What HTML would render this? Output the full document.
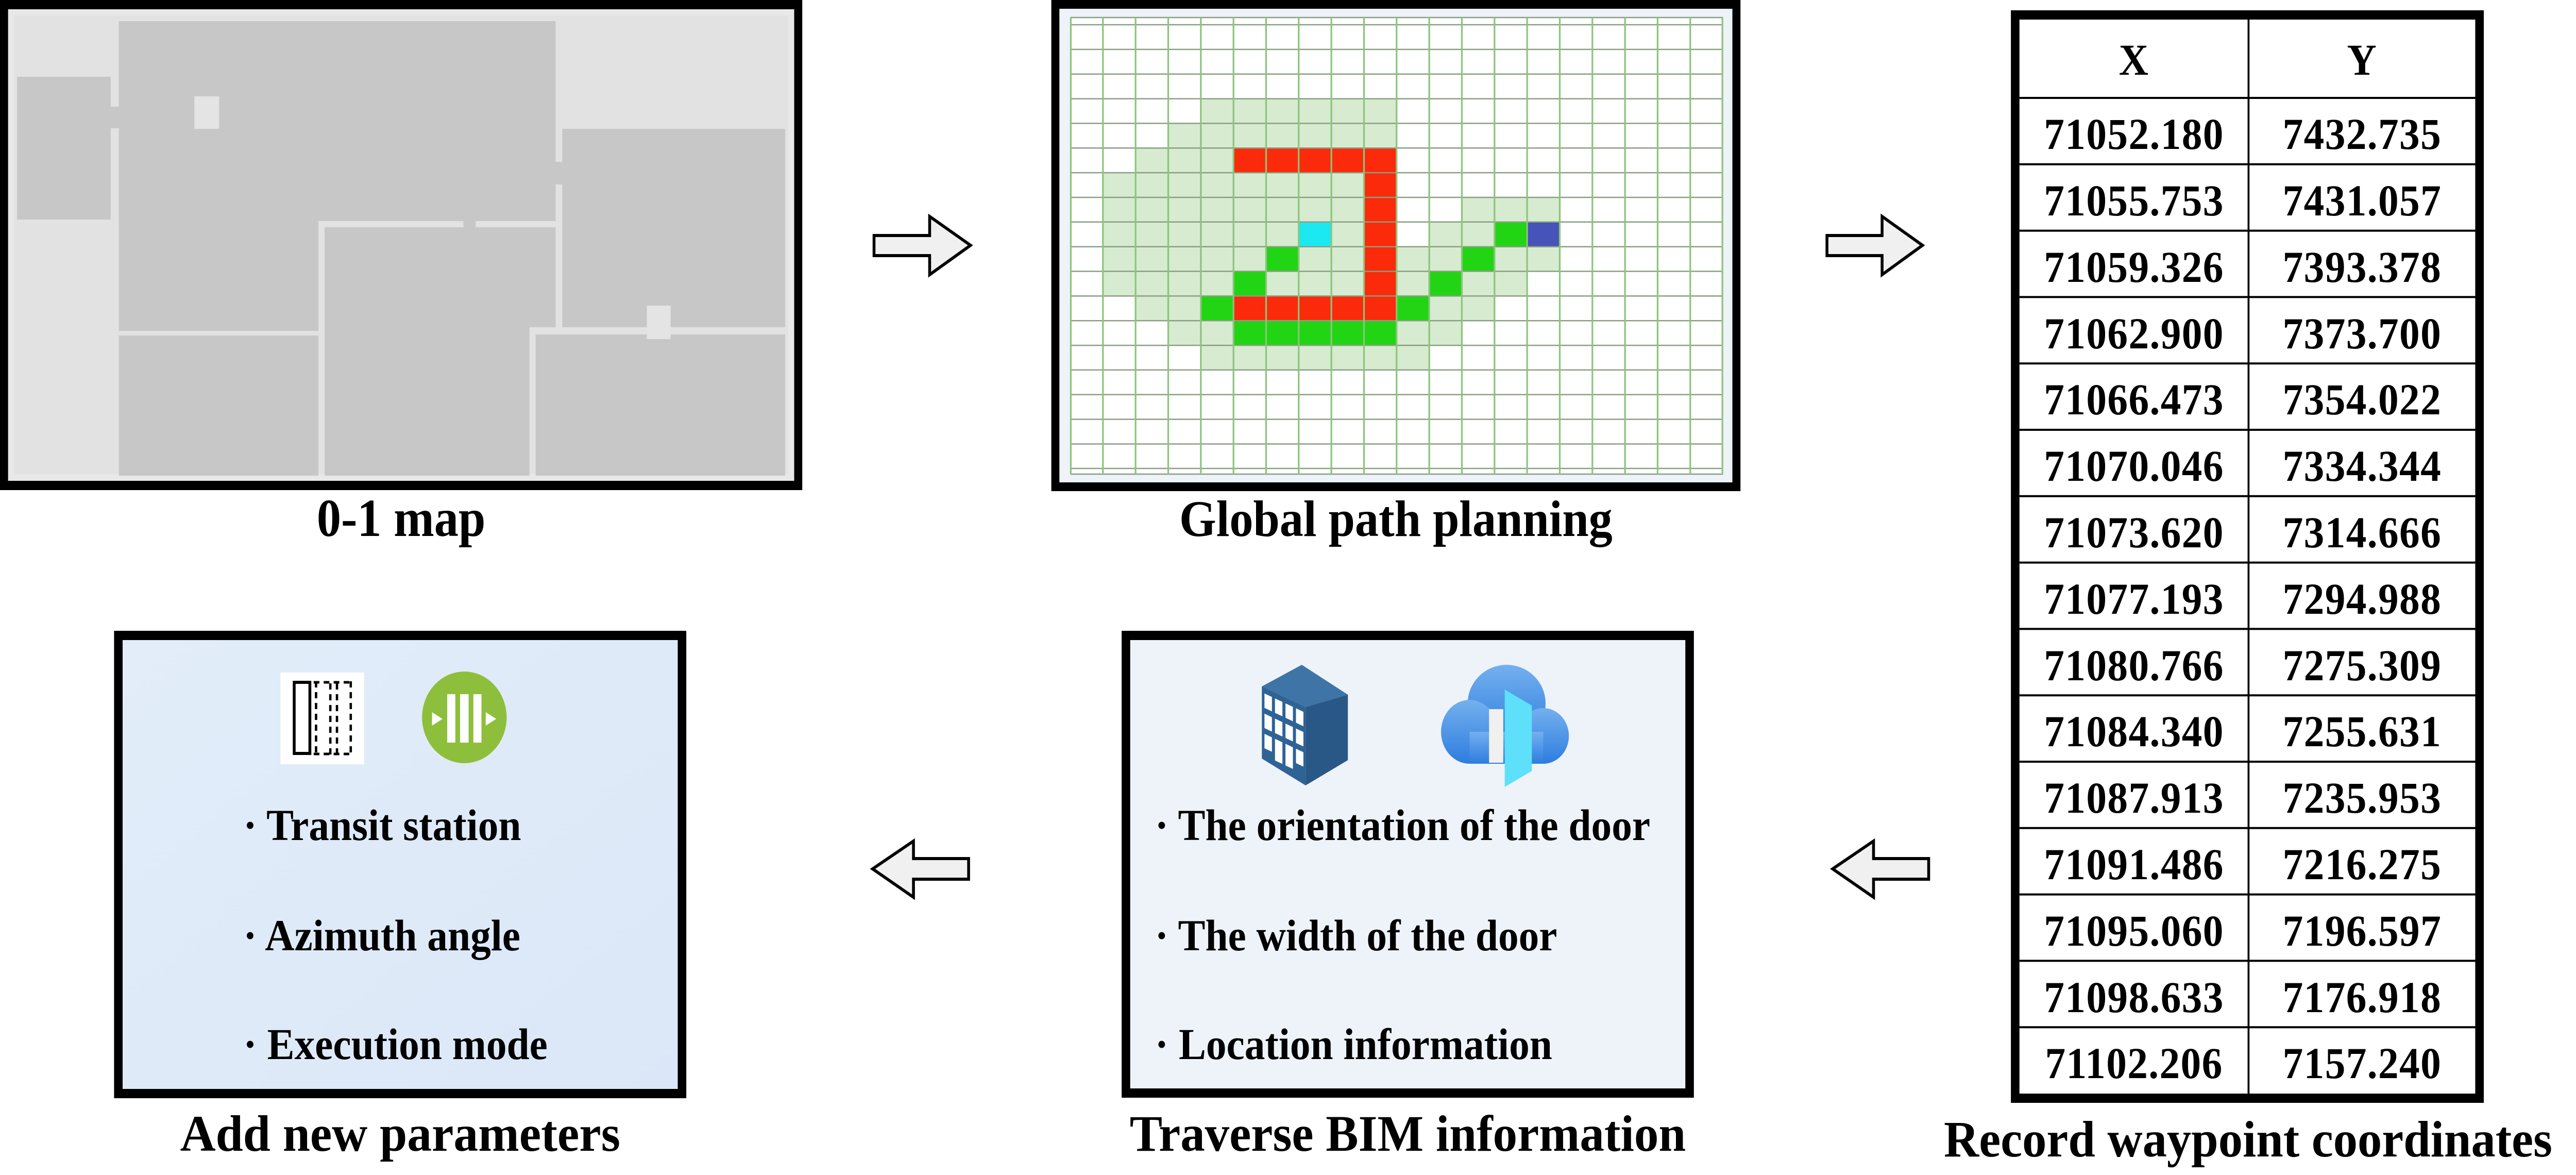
<!DOCTYPE html>
<html><head><meta charset="utf-8"><style>
html,body{margin:0;padding:0;background:#fff;overflow:hidden;}
svg{display:block;width:100vw;height:100vh;}
text{font-family:"Liberation Serif",serif;font-weight:bold;fill:#000;}
</style></head><body>
<svg xmlns="http://www.w3.org/2000/svg" viewBox="0 0 5420 2280" preserveAspectRatio="none">
<defs>
<linearGradient id="cloudg" x1="0" y1="0" x2="0" y2="1"><stop offset="0" stop-color="#74b0ee"/><stop offset="1" stop-color="#2d7ddf"/></linearGradient>
<linearGradient id="leftbg" x1="0" y1="0" x2="1" y2="1"><stop offset="0" stop-color="#e2edf9"/><stop offset="1" stop-color="#dbe7f8"/></linearGradient>
</defs>
<rect width="5420" height="2280" fill="#fff"/>

<!-- 0-1 map -->
<rect x="0" y="0" width="1688" height="951" fill="#000"/>
<rect x="17" y="18" width="1654" height="915" fill="#e8e8e8"/>
<rect x="30" y="30" width="1628" height="890" fill="#e2e2e2"/>
<g fill="#c7c7c7">
<rect x="36" y="149" width="197" height="277"/>
<rect x="250" y="41" width="919" height="388"/>
<rect x="250" y="41" width="420" height="601"/>
<rect x="250" y="651" width="420" height="272"/>
<rect x="683" y="441" width="486" height="194"/>
<rect x="683" y="441" width="431" height="482"/>
<rect x="1183" y="250" width="469" height="385"/>
<rect x="1127" y="649" width="525" height="274"/>
<rect x="233" y="207" width="17" height="42"/>
<rect x="1169" y="314" width="14" height="44"/>
<rect x="975" y="429" width="26" height="12"/>
</g>
<rect x="409" y="187" width="52" height="63" fill="#e4e4e4"/>
<rect x="1361" y="593" width="50" height="65" fill="#e4e4e4"/>
<text x="844" y="1040" font-size="104" text-anchor="middle" textLength="355" lengthAdjust="spacingAndGlyphs">0-1 map</text>

<!-- arrows -->
<g fill="#f0f0f0" stroke="#000" stroke-width="6" stroke-linejoin="miter">
<polygon points="1839,457 1956,457 1956,420 2042,476 1956,533 1956,496 1839,496"/>
<polygon points="3844,457 3960,457 3960,420 4045,476 3960,533 3960,496 3844,496"/>
<polygon points="2038,1666 1922,1666 1922,1632 1836,1686 1922,1741 1922,1706 2038,1706"/>
<polygon points="4058,1666 3942,1666 3942,1632 3856,1686 3942,1741 3942,1706 4058,1706"/>
</g>

<!-- Global path planning grid -->
<rect x="2212" y="0" width="1450" height="953" fill="#000"/>
<rect x="2229" y="17" width="1416" height="919" fill="#edf3f8"/>
<rect x="2252" y="34" width="1373" height="886" fill="#fff"/>
<g>
<rect x="2526.6" y="191.6" width="411.9" height="47.85" fill="#d6ebcf"/>
<rect x="2458" y="239.4" width="480.5" height="47.85" fill="#d6ebcf"/>
<rect x="2389.3" y="287.3" width="205.9" height="47.85" fill="#d6ebcf"/>
<rect x="2595.3" y="287.3" width="343.3" height="47.85" fill="#fb2a0a"/>
<rect x="2320.6" y="335.1" width="549.3" height="47.85" fill="#d6ebcf"/>
<rect x="2869.9" y="335.1" width="68.65" height="47.85" fill="#fb2a0a"/>
<rect x="2320.6" y="383" width="549.3" height="47.85" fill="#d6ebcf"/>
<rect x="2869.9" y="383" width="68.65" height="47.85" fill="#fb2a0a"/>
<rect x="3075.8" y="383" width="205.9" height="47.85" fill="#d6ebcf"/>
<rect x="2320.6" y="430.8" width="411.9" height="47.85" fill="#d6ebcf"/>
<rect x="2732.5" y="430.8" width="68.65" height="47.85" fill="#1ce8f2"/>
<rect x="2801.2" y="430.8" width="68.65" height="47.85" fill="#d6ebcf"/>
<rect x="2869.9" y="430.8" width="68.65" height="47.85" fill="#fb2a0a"/>
<rect x="3007.2" y="430.8" width="137.3" height="47.85" fill="#d6ebcf"/>
<rect x="3144.5" y="430.8" width="68.65" height="47.85" fill="#22d514"/>
<rect x="3213.1" y="430.8" width="68.65" height="47.85" fill="#4653b8"/>
<rect x="2320.6" y="478.7" width="343.3" height="47.85" fill="#d6ebcf"/>
<rect x="2663.9" y="478.7" width="68.65" height="47.85" fill="#22d514"/>
<rect x="2732.5" y="478.7" width="137.3" height="47.85" fill="#d6ebcf"/>
<rect x="2869.9" y="478.7" width="68.65" height="47.85" fill="#fb2a0a"/>
<rect x="2938.5" y="478.7" width="137.3" height="47.85" fill="#d6ebcf"/>
<rect x="3075.8" y="478.7" width="68.65" height="47.85" fill="#22d514"/>
<rect x="3144.5" y="478.7" width="137.3" height="47.85" fill="#d6ebcf"/>
<rect x="2320.6" y="526.5" width="274.6" height="47.85" fill="#d6ebcf"/>
<rect x="2595.3" y="526.5" width="68.65" height="47.85" fill="#22d514"/>
<rect x="2663.9" y="526.5" width="205.9" height="47.85" fill="#d6ebcf"/>
<rect x="2869.9" y="526.5" width="68.65" height="47.85" fill="#fb2a0a"/>
<rect x="2938.5" y="526.5" width="68.65" height="47.85" fill="#d6ebcf"/>
<rect x="3007.2" y="526.5" width="68.65" height="47.85" fill="#22d514"/>
<rect x="3075.8" y="526.5" width="137.3" height="47.85" fill="#d6ebcf"/>
<rect x="2389.3" y="574.4" width="137.3" height="47.85" fill="#d6ebcf"/>
<rect x="2526.6" y="574.4" width="68.65" height="47.85" fill="#22d514"/>
<rect x="2595.3" y="574.4" width="343.3" height="47.85" fill="#fb2a0a"/>
<rect x="2938.5" y="574.4" width="68.65" height="47.85" fill="#22d514"/>
<rect x="3007.2" y="574.4" width="137.3" height="47.85" fill="#d6ebcf"/>
<rect x="2458" y="622.2" width="137.3" height="47.85" fill="#d6ebcf"/>
<rect x="2595.3" y="622.2" width="343.3" height="47.85" fill="#22d514"/>
<rect x="2938.5" y="622.2" width="137.3" height="47.85" fill="#d6ebcf"/>
<rect x="2526.6" y="670.1" width="480.5" height="47.85" fill="#d6ebcf"/>
</g>
<g stroke="#8a9e82" stroke-width="2.5">
<line x1="2252" y1="34" x2="3625" y2="34"/><line x1="2252" y1="48" x2="3625" y2="48"/>
<line x1="2252" y1="95.85" x2="3625" y2="95.85"/><line x1="2252" y1="143.7" x2="3625" y2="143.7"/>
<line x1="2252" y1="191.6" x2="3625" y2="191.6"/><line x1="2252" y1="239.4" x2="3625" y2="239.4"/>
<line x1="2252" y1="287.3" x2="3625" y2="287.3"/><line x1="2252" y1="335.1" x2="3625" y2="335.1"/>
<line x1="2252" y1="383" x2="3625" y2="383"/><line x1="2252" y1="430.8" x2="3625" y2="430.8"/>
<line x1="2252" y1="478.7" x2="3625" y2="478.7"/><line x1="2252" y1="526.5" x2="3625" y2="526.5"/>
<line x1="2252" y1="574.4" x2="3625" y2="574.4"/><line x1="2252" y1="622.2" x2="3625" y2="622.2"/>
<line x1="2252" y1="670.1" x2="3625" y2="670.1"/><line x1="2252" y1="717.9" x2="3625" y2="717.9"/>
<line x1="2252" y1="765.8" x2="3625" y2="765.8"/><line x1="2252" y1="813.6" x2="3625" y2="813.6"/>
<line x1="2252" y1="861.5" x2="3625" y2="861.5"/><line x1="2252" y1="909" x2="3625" y2="909"/>
<line x1="2252" y1="920" x2="3625" y2="920"/>
</g>
<g stroke="#8cc47c" stroke-width="3.5">
<line x1="2253" y1="34" x2="2253" y2="920"/><line x1="2320.6" y1="34" x2="2320.6" y2="920"/>
<line x1="2389.3" y1="34" x2="2389.3" y2="920"/><line x1="2458" y1="34" x2="2458" y2="920"/>
<line x1="2526.6" y1="34" x2="2526.6" y2="920"/><line x1="2595.3" y1="34" x2="2595.3" y2="920"/>
<line x1="2663.9" y1="34" x2="2663.9" y2="920"/><line x1="2732.5" y1="34" x2="2732.5" y2="920"/>
<line x1="2801.2" y1="34" x2="2801.2" y2="920"/><line x1="2869.9" y1="34" x2="2869.9" y2="920"/>
<line x1="2938.5" y1="34" x2="2938.5" y2="920"/><line x1="3007.2" y1="34" x2="3007.2" y2="920"/>
<line x1="3075.8" y1="34" x2="3075.8" y2="920"/><line x1="3144.5" y1="34" x2="3144.5" y2="920"/>
<line x1="3213.1" y1="34" x2="3213.1" y2="920"/><line x1="3281.8" y1="34" x2="3281.8" y2="920"/>
<line x1="3350.4" y1="34" x2="3350.4" y2="920"/><line x1="3419.1" y1="34" x2="3419.1" y2="920"/>
<line x1="3487.7" y1="34" x2="3487.7" y2="920"/><line x1="3556.4" y1="34" x2="3556.4" y2="920"/>
<line x1="3624" y1="34" x2="3624" y2="920"/>
</g>
<text x="2937" y="1040" font-size="100" text-anchor="middle">Global path planning</text>

<!-- Table -->
<rect x="4231" y="20" width="995" height="2120" fill="#000"/>
<rect x="4249" y="38" width="959" height="2084" fill="#fff"/>
<g stroke="#000" stroke-width="4">
<line x1="4731" y1="38" x2="4731" y2="2122"/>
<line x1="4249" y1="190" x2="5208" y2="190"/><line x1="4249" y1="318.8" x2="5208" y2="318.8"/>
<line x1="4249" y1="447.6" x2="5208" y2="447.6"/><line x1="4249" y1="576.4" x2="5208" y2="576.4"/>
<line x1="4249" y1="705.2" x2="5208" y2="705.2"/><line x1="4249" y1="834" x2="5208" y2="834"/>
<line x1="4249" y1="962.8" x2="5208" y2="962.8"/><line x1="4249" y1="1091.6" x2="5208" y2="1091.6"/>
<line x1="4249" y1="1220.4" x2="5208" y2="1220.4"/><line x1="4249" y1="1349.2" x2="5208" y2="1349.2"/>
<line x1="4249" y1="1478" x2="5208" y2="1478"/><line x1="4249" y1="1606.8" x2="5208" y2="1606.8"/>
<line x1="4249" y1="1735.6" x2="5208" y2="1735.6"/><line x1="4249" y1="1864.4" x2="5208" y2="1864.4"/>
<line x1="4249" y1="1993.2" x2="5208" y2="1993.2"/>
</g>
<g font-size="86" text-anchor="middle" letter-spacing="1.5">
<text x="4490" y="145">X</text><text x="4970" y="145">Y</text>
<text x="4490" y="289">71052.180</text><text x="4970" y="289">7432.735</text>
<text x="4490" y="418">71055.753</text><text x="4970" y="418">7431.057</text>
<text x="4490" y="547">71059.326</text><text x="4970" y="547">7393.378</text>
<text x="4490" y="676">71062.900</text><text x="4970" y="676">7373.700</text>
<text x="4490" y="804">71066.473</text><text x="4970" y="804">7354.022</text>
<text x="4490" y="933">71070.046</text><text x="4970" y="933">7334.344</text>
<text x="4490" y="1062">71073.620</text><text x="4970" y="1062">7314.666</text>
<text x="4490" y="1191">71077.193</text><text x="4970" y="1191">7294.988</text>
<text x="4490" y="1320">71080.766</text><text x="4970" y="1320">7275.309</text>
<text x="4490" y="1448">71084.340</text><text x="4970" y="1448">7255.631</text>
<text x="4490" y="1577">71087.913</text><text x="4970" y="1577">7235.953</text>
<text x="4490" y="1706">71091.486</text><text x="4970" y="1706">7216.275</text>
<text x="4490" y="1835">71095.060</text><text x="4970" y="1835">7196.597</text>
<text x="4490" y="1964">71098.633</text><text x="4970" y="1964">7176.918</text>
<text x="4490" y="2092">71102.206</text><text x="4970" y="2092">7157.240</text>
</g>
<text x="4090" y="2244" font-size="100" textLength="1280" lengthAdjust="spacingAndGlyphs">Record waypoint coordinates</text>

<!-- Add new parameters box -->
<rect x="240" y="1224" width="1204" height="907" fill="#000"/>
<rect x="258" y="1242" width="1168" height="871" fill="url(#leftbg)"/>
<rect x="590" y="1305" width="176" height="178" fill="#fff"/>
<rect x="619" y="1324" width="33" height="138" fill="none" stroke="#000" stroke-width="6"/>
<g stroke="#000" stroke-width="5" stroke-dasharray="12,9">
<line x1="665" y1="1322" x2="665" y2="1466"/><line x1="695" y1="1326" x2="695" y2="1466"/>
<line x1="709" y1="1326" x2="709" y2="1466"/><line x1="738" y1="1322" x2="738" y2="1466"/>
<line x1="660" y1="1324" x2="742" y2="1324"/><line x1="660" y1="1463" x2="742" y2="1463"/>
</g>
<circle cx="977" cy="1392" r="89" fill="#8dbf3c"/>
<rect x="941" y="1347" width="17" height="94" fill="#fff"/>
<rect x="968" y="1347" width="18" height="94" fill="#fff"/>
<rect x="996" y="1347" width="17" height="94" fill="#fff"/>
<polygon points="909,1382 931,1395 909,1408" fill="#fff"/>
<polygon points="1022,1382 1044,1395 1022,1408" fill="#fff"/>
<g font-size="86">
<text x="512" y="1630">· Transit station</text>
<text x="512" y="1844">· Azimuth angle</text>
<text x="512" y="2055">· Execution mode</text>
</g>
<text x="842" y="2233" font-size="100" text-anchor="middle" textLength="926" lengthAdjust="spacingAndGlyphs">Add new parameters</text>

<!-- Traverse BIM information box -->
<rect x="2360" y="1224" width="1204" height="906" fill="#000"/>
<rect x="2378" y="1242" width="1168" height="870" fill="#eef3f9"/>
<polygon points="2655,1332 2739,1290 2836,1348 2747,1372" fill="#3e74a6"/>
<polygon points="2655,1332 2747,1372 2747,1524 2655,1472" fill="#2e6396"/>
<polygon points="2747,1372 2836,1348 2836,1475 2747,1524" fill="#295887"/>
<g transform="matrix(92,40,0,140,2655,1332)" fill="#fff">
<rect x="0.06" y="0.08" width="0.17" height="0.2"/><rect x="0.3" y="0.08" width="0.17" height="0.2"/>
<rect x="0.54" y="0.08" width="0.17" height="0.2"/><rect x="0.78" y="0.08" width="0.17" height="0.2"/>
<rect x="0.06" y="0.36" width="0.17" height="0.2"/><rect x="0.3" y="0.36" width="0.17" height="0.2"/>
<rect x="0.54" y="0.36" width="0.17" height="0.2"/><rect x="0.78" y="0.36" width="0.17" height="0.2"/>
<rect x="0.06" y="0.64" width="0.17" height="0.2"/><rect x="0.3" y="0.64" width="0.17" height="0.3"/>
<rect x="0.54" y="0.64" width="0.17" height="0.3"/><rect x="0.78" y="0.64" width="0.17" height="0.2"/>
</g>
<g fill="url(#cloudg)">
<ellipse cx="3170" cy="1365" rx="82" ry="75"/>
<ellipse cx="3092" cy="1420" rx="60" ry="62"/>
<ellipse cx="3247" cy="1428" rx="54" ry="54"/>
<rect x="3092" y="1420" width="155" height="62"/>
</g>
<rect x="3133" y="1376" width="30" height="104" fill="#f0f0f0"/>
<polygon points="3166,1338 3223,1369 3223,1496 3166,1527" fill="#5ee0fb"/>
<g font-size="86">
<text x="2430" y="1630">· The orientation of the door</text>
<text x="2430" y="1844">· The width of the door</text>
<text x="2430" y="2055">· Location information</text>
</g>
<text x="2962" y="2233" font-size="100" text-anchor="middle" textLength="1170" lengthAdjust="spacingAndGlyphs">Traverse BIM information</text>
</svg>
</body></html>
